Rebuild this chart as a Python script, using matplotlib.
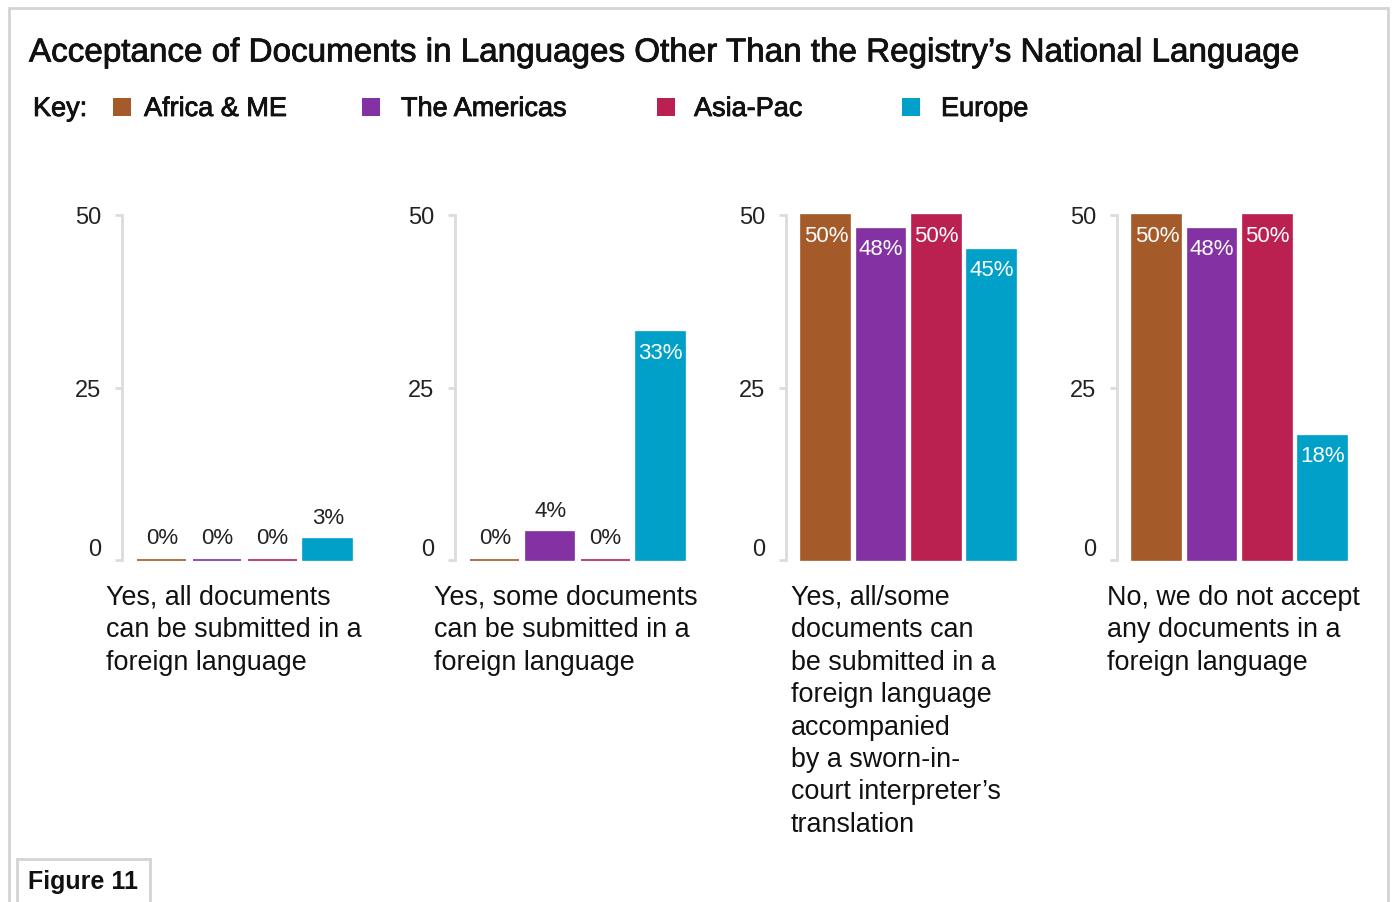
import matplotlib
matplotlib.use("Agg")
import matplotlib.pyplot as plt
import matplotlib.patheffects as pe
from matplotlib.patches import Rectangle
import numpy as np

plt.rcParams['font.family'] = ['Liberation Sans', 'DejaVu Sans']

# data (percent of registries)
regions = ["Africa & ME", "The Americas", "Asia-Pac", "Europe"]
colors = ["#A55A2A", "#8331A3", "#BA2150", "#00A0C8"]
categories = [
    "Yes, all documents\ncan be submitted in a\nforeign language",
    "Yes, some documents\ncan be submitted in a\nforeign language",
    "Yes, all/some\ndocuments can\nbe submitted in a\nforeign language\naccompanied\nby a sworn-in-\ncourt interpreter\u2019s\ntranslation",
    "No, we do not accept\nany documents in a\nforeign language",
]
all_docs = [0, 0, 0, 3]
some_docs = [0, 4, 0, 33]
with_translation = [50, 48, 50, 45]
none_accepted = [50, 48, 50, 18]
values = [all_docs, some_docs, with_translation, none_accepted]
yticks = [0, 25, 50]

W, H = 1394, 903
fig = plt.figure(figsize=(W / 100, H / 100), dpi=100)


def fx(px):
    return px / W


def fy(py):
    return 1 - py / H


medium = [pe.withStroke(linewidth=0.6, foreground="#111111")]

# layout in pixels
spine_x = [122, 455, 786, 1117]
label_x = [106, 434, 791, 1107]
unit = 55.3
x0 = -0.72
x1 = 3.6
y_top, y_zero = 216, 561

x = np.arange(len(regions))
for i, vals in enumerate(values):
    ax = fig.add_axes([fx(spine_x[i]), fy(y_zero), (x1 - x0) * unit / W, (y_zero - y_top) / H])
    bars = ax.bar(x, vals, width=0.88, color=colors, edgecolor=colors, linewidth=1.2, clip_on=False)
    ax.set_xlim(x0, x1)
    ax.set_ylim(0, 50)
    for s in ["top", "right", "bottom"]:
        ax.spines[s].set_visible(False)
    ax.spines["left"].set_color("#dcdcdc")
    ax.spines["left"].set_linewidth(2)
    ax.set_xticks([])
    ax.set_yticks(yticks)
    ax.tick_params(axis="y", length=5, width=2, color="#dcdcdc", labelsize=17,
                   labelcolor="#222222", pad=10)
    ax.get_yticklabels()[0].set_va("bottom")
    for b, v in zip(bars, vals):
        cx = b.get_x() + b.get_width() / 2
        if v >= 10:
            ax.annotate(f"{v}%", (cx, v), xytext=(0, -20), textcoords="offset pixels",
                        ha="center", va="center", color="white", fontsize=16)
        else:
            ax.annotate(f"{v}%", (cx, v), xytext=(0, 22), textcoords="offset pixels",
                        ha="center", va="center", color="#222222", fontsize=16)
    fig.text(fx(label_x[i]), fy(585), categories[i], ha="left", va="top",
             fontsize=19.4, color="#111111", linespacing=1.32)

# title
fig.text(fx(29), fy(54), "Acceptance of Documents in Languages Other Than the Registry\u2019s National Language",
         ha="left", va="center", fontsize=23.9, color="#111111", path_effects=medium)

# key
fig.text(fx(33), fy(110), "Key:", ha="left", va="center", fontsize=19.5, color="#111111",
         path_effects=medium)
key_sq = [113, 362, 657, 902]
key_txt = [144, 401, 694, 941]
for sq, tx, name, c in zip(key_sq, key_txt, regions, colors):
    fig.add_artist(Rectangle((fx(sq), fy(117)), 18 / W, 18 / H, transform=fig.transFigure,
                             facecolor=c, edgecolor="none"))
    fig.text(fx(tx), fy(110), name, ha="left", va="center", fontsize=19.5, color="#111111",
             path_effects=medium)

# outer frame and figure tag
fig.add_artist(Rectangle((fx(9), fy(930)), 1379 / W, 921 / H, transform=fig.transFigure,
                         fill=False, edgecolor="#d4d4d4", linewidth=2))
fig.add_artist(Rectangle((fx(17), fy(930)), 133 / W, 70 / H, transform=fig.transFigure,
                         facecolor="white", edgecolor="#d4d4d4", linewidth=2))
fig.text(fx(28), fy(882), "Figure 11", ha="left", va="center", fontsize=18,
         fontweight="bold", color="#111111")

fig.savefig("out.png", dpi=100)
